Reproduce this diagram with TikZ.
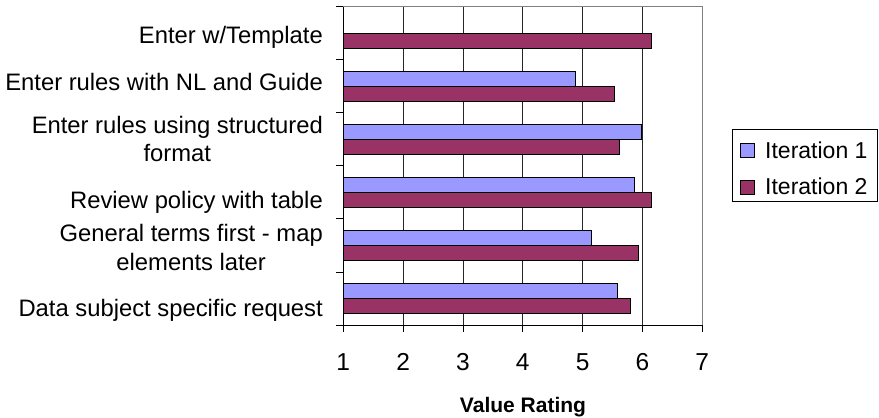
\documentclass[tikz,border=0pt]{standalone}
\usepackage{fontspec}
\setmainfont{Liberation Sans}
\definecolor{itone}{HTML}{9999FF}
\definecolor{ittwo}{HTML}{993366}
\begin{document}
\begin{tikzpicture}[x=1pt,y=-1pt,
  lbl/.style={inner sep=0pt,font=\fontsize{23.8}{28.5}\selectfont,align=center,anchor=base east},
  num/.style={inner sep=0pt,font=\fontsize{23}{28}\selectfont,anchor=base},
  tnum/.style={inner sep=0pt,font=\fontsize{24.5}{28}\selectfont,anchor=base},
  bone/.style={draw=black,line width=0.9pt,fill=itone},
  btwo/.style={draw=black,line width=0.9pt,fill=ittwo},
  grid/.style={draw=black!85,line width=0.8pt},
  frame/.style={draw=black!50,line width=1.4pt},
  axis/.style={draw=black,line width=0.9pt}]
\useasboundingbox (0,0) rectangle (879,418);
% gridlines
\foreach \i in {1,...,5}{
  \draw[grid] ({343.3+59.83*\i},6.7) -- ({343.3+59.83*\i},325);
}
\draw[frame] (343.3,6.7) -- (702.6,6.7) -- (702.6,325);
% bars (band top T, bar1 T+11.3..T+26.5, bar2 T+26.5..T+41.7)
\foreach \k/\a/\b in {0/0/651,1/575/614.3,2/641.7/619,3/634.7/651,4/591/638,5/617.3/630.7}{
  \pgfmathsetmacro{\T}{6.7+53.05*\k}
  \ifdim\a pt>1pt
    \draw[bone] (343.3,{\T+11.3}) rectangle (\a,{\T+26.5});
  \fi
  \draw[btwo] (343.3,{\T+26.5}) rectangle (\b,{\T+41.7});
}
% axes
\draw[axis] (343.3,6.7) -- (343.3,331.7);
\draw[axis] (336,325) -- (702.6,325);
\foreach \k in {0,...,5}{
  \draw[axis] (336,{6.7+53.05*\k}) -- (343.3,{6.7+53.05*\k});
}
\foreach \i in {1,...,6}{
  \draw[axis] ({343.3+59.83*\i},325) -- ({343.3+59.83*\i},331.7);
}
% tick labels
\foreach \i in {0,...,6}{
  \pgfmathtruncatemacro{\v}{\i+1}
  \node[tnum] (t\v) at ({343.3+59.83*\i},370) {\v};
}
\node[inner sep=0pt,anchor=base,font=\fontsize{21}{24}\selectfont\bfseries] (xt) at (523,412.7) {Value Rating};
% category labels (base = last line's baseline)
\node[lbl] (c1) at (323,43.3) {Enter w/Template};
\node[lbl] (c2) at (323,90) {Enter rules with NL and Guide};
\node[lbl] (c3) at (323,161.5) {Enter rules using structured\\format};
\node[lbl] (c4) at (323,208.3) {Review policy with table};
\node[lbl] (c5) at (323,270.2) {General terms first - map\\elements later};
\node[lbl] (c6) at (323,316) {Data subject specific request};
% legend
\draw[draw=black,line width=0.8pt] (732.7,129.7) rectangle (877.5,201.7);
\node[bone,minimum size=14pt,inner sep=0pt,line width=0.8pt] (s1) at (747.8,150) {};
\node[btwo,minimum size=14pt,inner sep=0pt,line width=0.8pt] (s2) at (747.8,187.3) {};
\node[num,anchor=base west] (l1) at (765,158.3) {Iteration 1};
\node[num,anchor=base west] (l2) at (765,194.3) {Iteration 2};
\end{tikzpicture}
\end{document}
